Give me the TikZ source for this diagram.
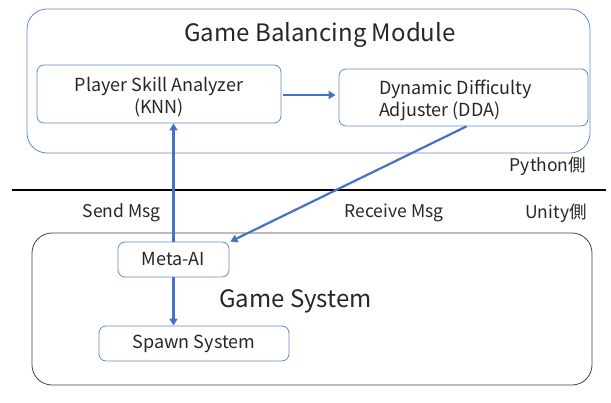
\documentclass[tikz,border=0pt]{standalone}
\usepackage{fontspec}
\setmainfont{Noto Sans CJK JP}
\usetikzlibrary{arrows.meta}
\definecolor{boxblue}{RGB}{68,114,196}
\definecolor{linkblue}{RGB}{68,114,196}
\definecolor{syscol}{RGB}{64,64,64}
\begin{document}
\begin{tikzpicture}[x=1pt,y=-1pt]
\tikzset{
  every node/.style={inner sep=0pt, text=black!85},
  module/.style={draw=boxblue!85, line width=0.8pt, rounded corners=20pt},
  part/.style={draw=boxblue!85, line width=0.8pt, rounded corners=7pt},
  parttext/.style={font=\fontsize{18}{22}\selectfont},
  link/.style={draw=linkblue, line width=2.2pt, -{Triangle[length=7pt,width=8pt]}},
  side/.style={font=\fontsize{17.5}{20}\selectfont}
}
\useasboundingbox (0,0) rectangle (611,403);
% python side
\node [module, minimum width=563pt, minimum height=144pt] (gbm) at (308.5,81) {};
\node [font=\fontsize{24}{28}\selectfont] (gbmtitle) at (320,35) {Game Balancing Module};
\node [part, minimum width=244pt, minimum height=58pt,
  label={[parttext, align=center, yshift=-3pt]center:Player Skill Analyzer\\(KNN)}] (psa) at (159,94) {};
\node [part, minimum width=249pt, minimum height=57pt,
  label={[parttext, align=left, xshift=-8pt, yshift=-3pt]center:Dynamic Difficulty\\Adjuster (DDA)}] (dda) at (463.5,97.5) {};
\node [side] (python) at (548,166) {Python側};
% border line
\draw [line width=2.4pt, black] (12,190) -- (606,190);
% unity side
\node [side] (sendmsg) at (121.5,213) {Send Msg};
\node [side] (recvmsg) at (394,213) {Receive Msg};
\node [side] (unity) at (556,213) {Unity側};
\node [draw=syscol, line width=0.8pt, rounded corners=20pt, minimum width=560pt, minimum height=152pt] (gs) at (312,309) {};
\node [font=\fontsize{24}{28}\selectfont] (gstitle) at (295.5,301) {Game System};
\node [part, parttext, minimum width=111pt, minimum height=35pt] (meta) at (173.5,259.5) {Meta-AI};
\node [part, parttext, minimum width=190pt, minimum height=35pt] (spawn) at (194,343.5) {Spawn System};
% messages
\draw [link, shorten <=2pt, shorten >=3pt] (psa.east |- 0,95) -- (dda.west |- 0,95);
\draw [link] (meta.north) -- (meta.north |- psa.south);
\draw [link] (meta.south) -- (meta.south |- spawn.north);
\draw [link] ([xshift=3pt]dda.south) -- ([xshift=1pt]meta.north east);
\end{tikzpicture}
\end{document}
